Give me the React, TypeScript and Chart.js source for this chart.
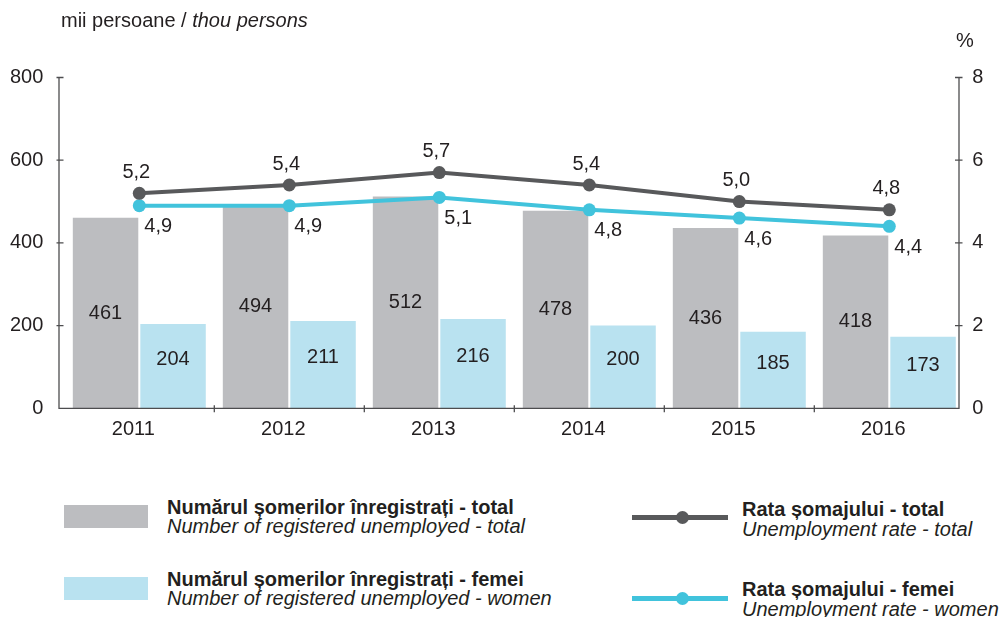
import React, { useEffect, useRef } from "react";
import { Chart, registerables } from "chart.js";

Chart.register(...registerables);

const years = ["2011", "2012", "2013", "2014", "2015", "2016"];
const unemployedTotal = [461, 494, 512, 478, 436, 418];
const unemployedWomen = [204, 211, 216, 200, 185, 173];
const rateTotal = [5.2, 5.4, 5.7, 5.4, 5.0, 4.8];
const rateWomen = [4.9, 4.9, 5.1, 4.8, 4.6, 4.4];

const FONT = '"Liberation Sans", Arial, Helvetica, sans-serif';
const TEXT = "#231f20";
const GRAY_BAR = "#bcbdc0";
const BLUE_BAR = "#b9e2f0";
const DARK_LINE = "#58595b";
const CYAN_LINE = "#41c3dc";
const AXIS = "#4d4d4f";

const fmt = (v: number) => v.toFixed(1).replace(".", ",");

const AXIS_SHIFT = 5.3;

const axisPlugin = {
  id: "customAxes",
  afterDatasetsDraw(chart: any) {
    const ctx = chart.ctx;
    const y = chart.scales.y;
    const y1 = chart.scales.y1;
    const x = chart.scales.x;
    const leftX = chart.chartArea.left - AXIS_SHIFT;
    const rightX = chart.chartArea.right - AXIS_SHIFT;
    const baseY = y.getPixelForValue(0);
    ctx.save();
    ctx.strokeStyle = AXIS;
    ctx.lineWidth = 1.3;
    ctx.beginPath();
    ctx.moveTo(leftX, y.getPixelForValue(800));
    ctx.lineTo(leftX, baseY);
    ctx.lineTo(rightX, baseY);
    ctx.lineTo(rightX, y1.getPixelForValue(8));
    ctx.stroke();
    ctx.beginPath();
    y.ticks.forEach((t: any) => {
      const py = y.getPixelForValue(t.value);
      if (t.value === 0) return;
      ctx.moveTo(leftX - 2.5, py);
      ctx.lineTo(leftX + 4.5, py);
    });
    y1.ticks.forEach((t: any) => {
      const py = y1.getPixelForValue(t.value);
      if (t.value === 0) return;
      ctx.moveTo(rightX - 4, py);
      ctx.lineTo(rightX + 3.5, py);
    });
    for (let i = 0; i < years.length - 1; i++) {
      const px = (x.getPixelForValue(i) + x.getPixelForValue(i + 1)) / 2;
      ctx.moveTo(px, baseY - 3);
      ctx.lineTo(px, baseY + 4);
    }
    ctx.stroke();
    ctx.restore();
  },
};

const labelPlugin = {
  id: "valueLabels",
  afterDatasetsDraw(chart: any) {
    const ctx = chart.ctx;
    ctx.save();
    ctx.fillStyle = TEXT;
    ctx.font = `20px ${FONT}`;
    chart.data.datasets.forEach((ds: any, di: number) => {
      const meta = chart.getDatasetMeta(di);
      meta.data.forEach((el: any, i: number) => {
        const v = ds.data[i];
        if (ds.labelMode === "barMid") {
          ctx.textAlign = "center";
          ctx.textBaseline = "middle";
          ctx.fillText(String(v), el.x, (el.y + el.base) / 2);
        } else if (ds.labelMode === "barMidUp") {
          ctx.textAlign = "center";
          ctx.textBaseline = "middle";
          ctx.fillText(String(v), el.x, (el.y + el.base) / 2 - 7);
        } else if (ds.labelMode === "above") {
          ctx.textAlign = "center";
          ctx.textBaseline = "middle";
          ctx.fillText(fmt(v), el.x - 3, el.y - 21);
        } else if (ds.labelMode === "belowRight") {
          ctx.textAlign = "left";
          ctx.textBaseline = "middle";
          ctx.fillText(fmt(v), el.x + 5, el.y + 21);
        }
      });
    });
    ctx.restore();
  },
};

function LegendBox({ color, top, textTop, bold, italic }: any) {
  return (
    <>
      <div
        style={{
          position: "absolute",
          left: 64,
          top: top,
          width: 84,
          height: 23,
          background: color,
        }}
      />
      <div
        style={{
          position: "absolute",
          left: 167,
          top: textTop,
          fontSize: 20,
          lineHeight: "19px",
          color: TEXT,
          whiteSpace: "nowrap",
        }}
      >
        <div style={{ fontWeight: "bold" }}>{bold}</div>
        <div style={{ fontStyle: "italic" }}>{italic}</div>
      </div>
    </>
  );
}

function LegendLine({ color, lineTop, textTop, bold, italic }: any) {
  return (
    <>
      <div
        style={{
          position: "absolute",
          left: 632,
          top: lineTop - 2.5,
          width: 96,
          height: 5,
          background: color,
        }}
      />
      <div
        style={{
          position: "absolute",
          left: 676,
          top: lineTop - 6.5,
          width: 13,
          height: 13,
          borderRadius: "50%",
          background: color,
        }}
      />
      <div
        style={{
          position: "absolute",
          left: 742,
          top: textTop,
          fontSize: 20,
          lineHeight: "20px",
          color: TEXT,
          whiteSpace: "nowrap",
        }}
      >
        <div style={{ fontWeight: "bold" }}>{bold}</div>
        <div style={{ fontStyle: "italic" }}>{italic}</div>
      </div>
    </>
  );
}

export default function App() {
  const canvasRef = useRef<HTMLCanvasElement | null>(null);

  useEffect(() => {
    if (!canvasRef.current) return;
    const chart = new Chart(canvasRef.current, {
      type: "bar",
      data: {
        labels: years,
        datasets: [
          {
            type: "line",
            label: "Rata șomajului - total",
            data: rateTotal,
            yAxisID: "y1",
            borderColor: DARK_LINE,
            backgroundColor: DARK_LINE,
            borderWidth: 4,
            pointRadius: 6.5,
            pointBackgroundColor: DARK_LINE,
            pointBorderWidth: 0,
            tension: 0,
            order: 0,
            labelMode: "above",
          } as any,
          {
            type: "line",
            label: "Rata șomajului - femei",
            data: rateWomen,
            yAxisID: "y1",
            borderColor: CYAN_LINE,
            backgroundColor: CYAN_LINE,
            borderWidth: 4,
            pointRadius: 6.5,
            pointBackgroundColor: CYAN_LINE,
            pointBorderWidth: 0,
            tension: 0,
            order: 1,
            labelMode: "belowRight",
          } as any,
          {
            type: "bar",
            label: "Numărul șomerilor înregistrați - total",
            data: unemployedTotal,
            yAxisID: "y",
            backgroundColor: GRAY_BAR,
            categoryPercentage: 0.9,
            barPercentage: 0.97,
            order: 2,
            labelMode: "barMid",
          } as any,
          {
            type: "bar",
            label: "Numărul șomerilor înregistrați - femei",
            data: unemployedWomen,
            yAxisID: "y",
            backgroundColor: BLUE_BAR,
            categoryPercentage: 0.9,
            barPercentage: 0.97,
            order: 3,
            labelMode: "barMidUp",
          } as any,
        ],
      },
      options: {
        animation: false,
        responsive: false,
        layout: { padding: { top: 77.5, left: 0, right: 0, bottom: 0 } },
        plugins: {
          legend: { display: false },
          tooltip: { enabled: false },
        },
        scales: {
          x: {
            grid: { display: false, drawTicks: false },
            border: { display: false },
            ticks: { font: { family: FONT, size: 20 }, color: TEXT, padding: 9, labelOffset: -6 },
            afterFit: (s: any) => {
              s.height = 460 - 408.3;
            },
          },
          y: {
            position: "left",
            min: 0,
            max: 800,
            grid: { display: false, drawTicks: false },
            border: { display: false },
            ticks: { stepSize: 200, font: { family: FONT, size: 20 }, color: TEXT, padding: 21 },
            afterFit: (s: any) => {
              s.width = 64.3;
            },
          },
          y1: {
            position: "right",
            min: 0,
            max: 8,
            grid: { display: false, drawTicks: false },
            border: { display: false },
            ticks: { stepSize: 2, font: { family: FONT, size: 20 }, color: TEXT, padding: 8 },
            afterFit: (s: any) => {
              s.width = 1003 - 964.3;
            },
          },
        },
      } as any,
      plugins: [axisPlugin, labelPlugin],
    });
    return () => chart.destroy();
  }, []);

  return (
    <div
      style={{
        position: "absolute",
        left: 0,
        top: 0,
        width: 1003,
        height: 617,
        background: "#fff",
        fontFamily: FONT,
        color: TEXT,
        overflow: "hidden",
      }}
    >
      <canvas ref={canvasRef} width={1003} height={460} style={{ display: "block" }} />
      <div
        style={{
          position: "absolute",
          left: 61,
          top: 9,
          fontSize: 20,
          lineHeight: "22px",
          whiteSpace: "nowrap",
        }}
      >
        mii persoane / <i>thou persons</i>
      </div>
      <div
        style={{
          position: "absolute",
          left: 956,
          top: 29,
          fontSize: 20,
          lineHeight: "22px",
        }}
      >
        %
      </div>
      <LegendBox
        color={GRAY_BAR}
        top={505}
        textTop={498}
        bold="Numărul șomerilor înregistrați - total"
        italic="Number of registered unemployed - total"
      />
      <LegendBox
        color={BLUE_BAR}
        top={577}
        textTop={570}
        bold="Numărul șomerilor înregistrați - femei"
        italic="Number of registered unemployed - women"
      />
      <LegendLine
        color={DARK_LINE}
        lineTop={517}
        textTop={499}
        bold="Rata șomajului - total"
        italic="Unemployment rate - total"
      />
      <LegendLine
        color={CYAN_LINE}
        lineTop={598}
        textTop={579}
        bold="Rata șomajului - femei"
        italic="Unemployment rate - women"
      />
    </div>
  );
}
